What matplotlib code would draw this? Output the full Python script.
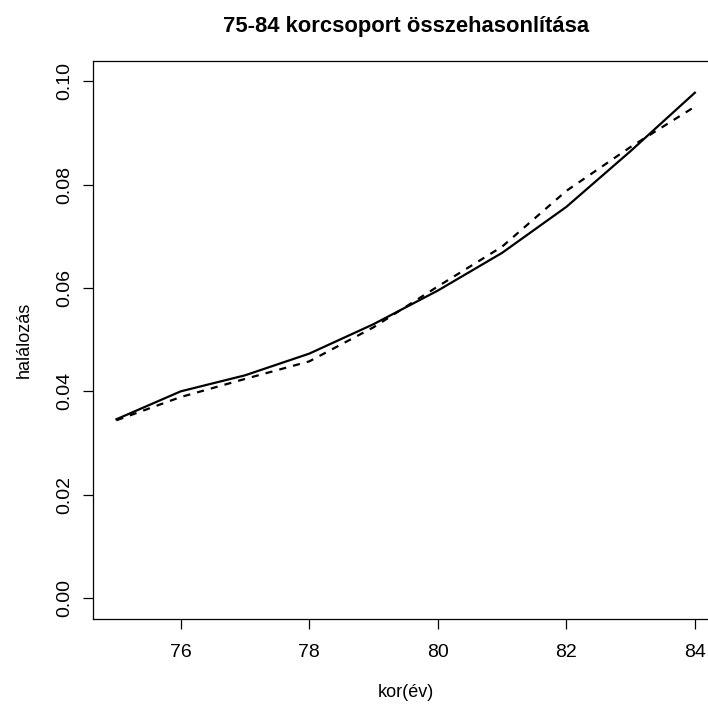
import matplotlib
matplotlib.use('Agg')
import matplotlib.pyplot as plt

# Data
ages = [75, 76, 77, 78, 79, 80, 81, 82, 83, 84]
mortality_solid = [0.0346, 0.0400, 0.0431, 0.0473, 0.0530, 0.0595, 0.0668, 0.0757, 0.0865, 0.0978]
mortality_dashed = [0.0344, 0.0389, 0.0424, 0.0458, 0.0524, 0.0603, 0.0680, 0.0788, 0.0873, 0.0951]
x_ticks = [76, 78, 80, 82, 84]
y_ticks = [0.00, 0.02, 0.04, 0.06, 0.08, 0.10]

plt.rcParams['font.family'] = ['Liberation Sans', 'DejaVu Sans']

fig = plt.figure(figsize=(7.08, 7.09), dpi=100)
# plot region extends past the right edge, like the cropped original
ax = fig.add_axes([0.1318, 0.1274, 0.8823, 0.7870])

ax.plot(ages, mortality_solid, color='black', linewidth=1.6, solid_joinstyle='round')
ax.plot(ages, mortality_dashed, color='black', linewidth=1.6, linestyle=(0, (3.2, 3.2)))

ax.set_xlim(74.64, 84.36)
ax.set_ylim(-0.004, 0.104)
ax.set_xticks(x_ticks)
ax.set_xticklabels([str(t) for t in x_ticks])
ax.set_yticks(y_ticks)
ax.set_yticklabels(['%.2f' % t for t in y_ticks], rotation=90, va='center')

for s in ax.spines.values():
    s.set_linewidth(0.9)
    s.set_color('black')
ax.tick_params(axis='both', length=7.5, width=0.9, labelsize=14, colors='black')
ax.tick_params(axis='x', pad=11)
ax.tick_params(axis='y', pad=7)

ax.set_title('75-84 korcsoport összehasonlítása', fontsize=15.8, fontweight='bold', pad=21)
ax.set_xlabel('kor(év)', fontsize=13, labelpad=16)
ax.set_ylabel('halálozás', fontsize=13, labelpad=17)

fig.savefig('out.png', dpi=100)
